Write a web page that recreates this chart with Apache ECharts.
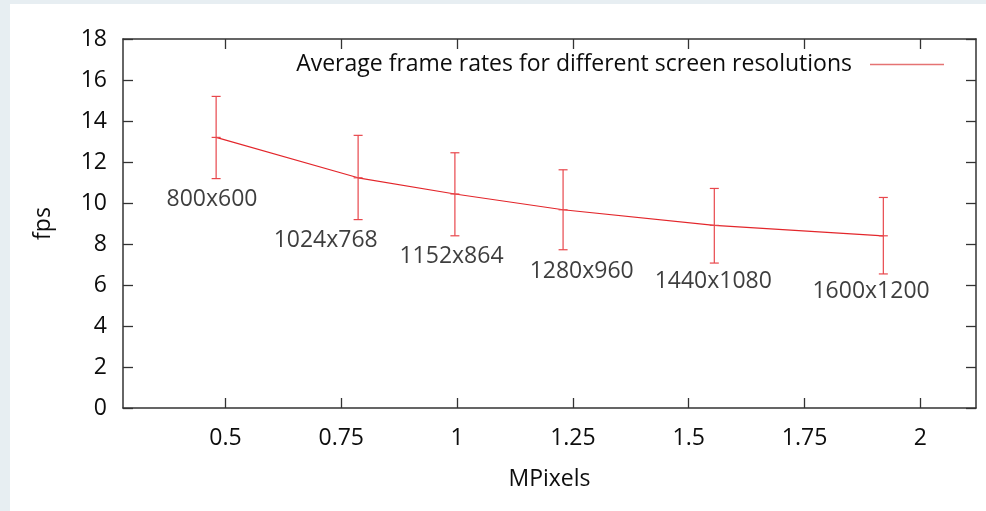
<!DOCTYPE html>
<html>
<head>
<meta charset="utf-8">
<script src="https://cdn.jsdelivr.net/npm/echarts@6/dist/echarts.min.js"></script>
<style>
html,body{margin:0;padding:0;background:#e7eef2;}
#chart{width:986px;height:511px;}
</style>
</head>
<body>
<div id="chart"></div>
<script>
// ---- data ----
var resolutions = ['800x600', '1024x768', '1152x864', '1280x960', '1440x1080', '1600x1200'];
var mpixels = [0.48, 0.786432, 0.995328, 1.2288, 1.5552, 1.92];
var fps = [13.2, 11.23, 10.44, 9.67, 8.91, 8.40];
var fpsLow = [11.19, 9.19, 8.40, 7.72, 7.07, 6.54];
var fpsHigh = [15.2, 13.3, 12.45, 11.62, 10.71, 10.27];
var labelX = [0.471, 0.7165, 0.988, 1.269, 1.553, 1.8935];
var labelY = [10.16, 8.16, 7.38, 6.65, 6.16, 5.67];
var xTicks = [0.5, 0.75, 1, 1.25, 1.5, 1.75, 2];
var yTicks = [0, 2, 4, 6, 8, 10, 12, 14, 16, 18];
var seriesName = 'Average frame rates for different screen resolutions';

var RED = '#e3262b';
var AXIS = '#333333';
var TEXT = '#0d0d0d';
var FONT = '"Open Sans", sans-serif';
var FS = 23;

var lineData = mpixels.map(function (x, i) { return [x, fps[i]]; });
var errData = mpixels.map(function (x, i) { return [x, fpsLow[i], fpsHigh[i], fps[i]]; });
var labelData = resolutions.map(function (r, i) { return { name: r, value: [labelX[i], labelY[i]] }; });

var chart = echarts.init(document.getElementById('chart'), null, { renderer: 'canvas' });

function xAxisCfg(pos, showLabel) {
  return {
    type: 'value', position: pos, min: 0.279, max: 2.12,
    name: showLabel ? 'MPixels' : '', nameLocation: 'middle', nameGap: 60,
    nameTextStyle: { fontFamily: FONT, fontSize: FS, color: TEXT },
    axisLine: { show: true, onZero: false, lineStyle: { color: AXIS, width: 1.5 } },
    axisTick: { show: true, inside: true, length: 10, customValues: xTicks, lineStyle: { color: AXIS, width: 1.3 } },
    axisLabel: { show: showLabel, customValues: xTicks, margin: 19, fontFamily: FONT, fontSize: FS, color: TEXT,
      formatter: function (v) { return String(v); } },
    splitLine: { show: false }
  };
}
function yAxisCfg(pos, showLabel) {
  return {
    type: 'value', position: pos, min: 0, max: 18, interval: 2,
    name: showLabel ? 'fps' : '', nameLocation: 'middle', nameGap: 68, nameRotate: 90,
    nameTextStyle: { fontFamily: FONT, fontSize: FS, color: TEXT },
    axisLine: { show: true, onZero: false, lineStyle: { color: AXIS, width: 1.5 } },
    axisTick: { show: true, inside: true, length: 10, lineStyle: { color: AXIS, width: 1.3 } },
    axisLabel: { show: showLabel, margin: 16, fontFamily: FONT, fontSize: FS, color: TEXT },
    splitLine: { show: false }
  };
}

chart.setOption({
  animation: false,
  backgroundColor: '#e7eef2',
  graphic: [{
    type: 'rect', z: -10, silent: true,
    shape: { x: 10, y: 4, width: 976, height: 507 },
    style: { fill: '#ffffff' }
  }],
  grid: { left: 123, top: 39, right: 10, bottom: 103, containLabel: false },
  xAxis: [xAxisCfg('bottom', true), xAxisCfg('top', false)],
  yAxis: [yAxisCfg('left', true), yAxisCfg('right', false)],
  legend: {
    data: [seriesName],
    right: 37, top: 48,
    align: 'right',
    icon: 'rect',
    itemWidth: 74, itemHeight: 1.4,
    textStyle: { fontFamily: FONT, fontSize: FS, color: TEXT, padding: [0, 13, 0, 0] },
    itemStyle: { color: '#e57373' },
    selectedMode: false
  },
  series: [
    {
      name: seriesName, type: 'line', data: lineData,
      showSymbol: false, symbol: 'none',
      lineStyle: { color: RED, width: 1.2 },
      itemStyle: { color: RED },
      z: 3
    },
    {
      name: 'err', type: 'custom', data: errData,
      encode: { x: 0, y: [1, 2] },
      renderItem: function (params, api) {
        var x = api.value(0);
        var lo = api.coord([x, api.value(1)]);
        var hi = api.coord([x, api.value(2)]);
        var mid = api.coord([x, api.value(3)]);
        var w = 4.5;
        var st = { stroke: '#e8474c', lineWidth: 1.2 };
        return {
          type: 'group',
          children: [
            { type: 'line', shape: { x1: hi[0], y1: hi[1], x2: lo[0], y2: lo[1] }, style: st },
            { type: 'line', shape: { x1: hi[0] - w, y1: hi[1], x2: hi[0] + w, y2: hi[1] }, style: st },
            { type: 'line', shape: { x1: lo[0] - w, y1: lo[1], x2: lo[0] + w, y2: lo[1] }, style: st },
            { type: 'line', shape: { x1: mid[0] - w, y1: mid[1], x2: mid[0] + w, y2: mid[1] }, style: st }
          ]
        };
      },
      z: 4
    },
    {
      name: 'labels', type: 'scatter', data: labelData,
      symbolSize: 0,
      label: {
        show: true, position: 'inside',
        formatter: function (p) { return p.name; },
        fontFamily: FONT, fontSize: FS, color: TEXT
      },
      z: 5
    }
  ]
});
</script>
</body>
</html>
